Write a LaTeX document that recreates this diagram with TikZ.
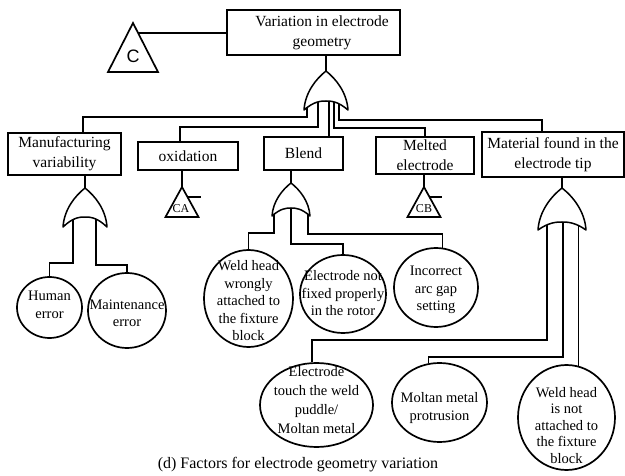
\documentclass[tikz,border=0pt]{standalone}
\usepackage{fontspec}
\setmainfont{Liberation Serif}
\newfontfamily\labelsans{Liberation Sans}
\usetikzlibrary{shapes.geometric}
\pgfdeclarelayer{background}
\pgfsetlayers{background,main}

\tikzset{
  box/.style={draw, line width=1.7pt, fill=white, inner sep=0pt, align=center,
    font=\fontsize{15.5}{20}\selectfont},
  boxtext/.style={inner sep=0pt, align=center, font=\fontsize{15.5}{20}\selectfont},
  event/.style={draw, ellipse, line width=1.7pt, fill=white, inner sep=0pt},
  eventtext/.style={inner sep=0pt, align=center, font=\fontsize{14.5}{17.5}\selectfont},
  wire/.style={line width=1.3pt},
  gate/.style={draw, line width=1.5pt, fill=white, line join=round},
  transfer/.style={draw, line width=1.7pt, line join=miter},
  transfertext/.style={inner sep=0pt, font=\fontsize{12}{12}\selectfont},
  figcaption/.style={inner sep=0pt, font=\fontsize{16}{19}\selectfont},
}

% OR gate pointing up: name, apex x, apex y, half width, height, rise of the back curve
\newcommand{\orgate}[6]{%
  \begin{scope}[shift={(#2,#3)}]
    \path[gate] ({-#4},#5)
      .. controls ({-0.95*#4},{0.55*#5}) and ({-0.45*#4},{0.2*#5}) .. (0,0)
      .. controls ({0.45*#4},{0.2*#5}) and ({0.95*#4},{0.55*#5}) .. (#4,#5)
      .. controls ({0.55*#4},{#5-0.95*#6}) and ({0.25*#4},{#5-#6}) .. (0,{#5-#6})
      .. controls ({-0.25*#4},{#5-#6}) and ({-0.55*#4},{#5-0.95*#6}) .. ({-#4},#5) -- cycle;
    \coordinate (#1) at (0,0);
    \coordinate (#1-in) at (0,{#5-#6});
  \end{scope}}

\begin{document}
\begin{tikzpicture}[x=1pt,y=-1pt]
\useasboundingbox (0,0) rectangle (625,476);

% top event
\node[box, minimum width=173pt, minimum height=45pt] (top) at (313.5,32.5) {};
\node[boxtext] (top-t) at (322,32.5) {Variation in electrode\\geometry};

% transfer symbol C
\draw[transfer] (133,23) coordinate (c-apex) -- (158,72) -- (108,72) -- cycle;
\node[inner sep=0pt, font=\labelsans\fontsize{18}{18}\selectfont] (c-t) at (133,56) {C};
\coordinate (c-side) at (138,33);

% intermediate events
\node[box, minimum width=113pt, minimum height=42pt] (mfg) at (64.5,154) {Manufacturing\\variability};
\node[box, minimum width=100pt, minimum height=28pt] (ox) at (188,156) {oxidation};
\node[box, minimum width=79pt, minimum height=33pt] (blend) at (303.5,153.5) {Blend};
\node[box, minimum width=98pt, minimum height=37pt] (mel) at (425,155.5) {Melted\\electrode};
\node[box, minimum width=142pt, minimum height=45pt] (mat) at (553,154.5) {Material found in the\\electrode tip};

% gates
\orgate{g0}{326}{71}{22}{39}{9}
\orgate{gm}{85}{188}{22}{39}{10}
\orgate{gb}{291}{183}{19}{33}{8}
\orgate{gt}{562}{188}{24}{42}{8}

% transfer symbols CA and CB
\draw[transfer] (182,187) coordinate (ca-apex) -- (198.5,217) -- (165.5,217) -- cycle;
\node[transfertext] (ca-t) at (181,209) {CA};
\draw[wire] (187.5,197) coordinate (ca-tick) -- ++(13.5,0);
\draw[transfer] (424,187) coordinate (cb-apex) -- (440.5,217) -- (407.5,217) -- cycle;
\node[transfertext] (cb-t) at (424,209) {CB};
\draw[wire] (429.5,197) coordinate (cb-tick) -- ++(12,0);

% basic events
\node[event, minimum width=65pt, minimum height=61pt] (human) at (49.5,307.5) {};
\node[eventtext] (human-t) at (49.5,305) {Human\\error};
\node[event, minimum width=78pt, minimum height=75pt] (maint) at (127,310.5) {};
\node[eventtext] (maint-t) at (127,313.5) {Maintenance\\error};
\node[event, minimum width=89pt, minimum height=97pt] (weld1) at (248.5,298.5) {};
\node[eventtext] (weld1-t) at (248.5,301) {Weld head\\wrongly\\attached to\\the fixture\\block};
\node[event, minimum width=86pt, minimum height=78pt] (notfix) at (343,294) {};
\node[eventtext] (notfix-t) at (343,293.5) {Electrode not\\fixed properly\\in the rotor};
\node[event, minimum width=84pt, minimum height=79pt] (arc) at (436,287.5) {};
\node[eventtext] (arc-t) at (436,290) {Incorrect\\arc gap\\setting};
\node[event, minimum width=113pt, minimum height=84pt] (touch) at (316.5,405) {};
\node[eventtext, font=\fontsize{14.5}{19}\selectfont] (touch-t) at (316.5,400.5) {Electrode\\touch the weld\\puddle/\\Moltan metal};
\node[event, minimum width=95pt, minimum height=79pt] (molt) at (439.5,402.5) {};
\node[eventtext] (molt-t) at (439.5,408) {Moltan metal\\protrusion};
\node[event, minimum width=97pt, minimum height=105pt] (wnot) at (566.5,417.5) {};
\node[eventtext, font=\fontsize{14.5}{16.5}\selectfont] (wnot-t) at (566.5,425.5) {Weld head\\is not\\attached to\\the fixture\\block};

% caption
\node[figcaption] (cap) at (298,465) {(d) Factors for electrode geometry variation};

% connectors, kept behind gates and events
\begin{pgfonlayer}{background}
\draw[wire] (c-side) -- (top.west |- c-side);
\draw[wire] (top.south -| g0) -- (g0);
\draw[wire] ([xshift=-19pt]g0-in) |- (83,117) -- (83,117 |- mfg.north);
\draw[wire] ([xshift=-8pt]g0-in) |- (180,127) -- (180,127 |- ox.north);
\draw[wire] ([xshift=3pt]g0-in) coordinate (w3) -- (w3 |- blend.north);
\draw[wire] ([xshift=8pt]g0-in) |- (mel.north |- 0,128) -- (mel.north);
\draw[wire] ([xshift=13pt]g0-in) |- (542,120) -- (542,120 |- mat.north);

\draw[wire] (mfg.south -| gm) -- (gm);
\draw[wire] ([xshift=-12pt]gm-in) |- (human.north |- 0,263) -- (human.north);
\draw[wire] ([xshift=11pt]gm-in) |- (maint.north |- 0,265) -- (maint.north);

\draw[wire] (ox.south -| ca-apex) -- (ca-apex);
\draw[wire] (mel.south -| cb-apex) -- (cb-apex);

\draw[wire] (blend.south -| gb) -- (gb);
\draw[wire] ([xshift=-17pt]gb-in) |- (weld1.north |- 0,233) -- (weld1.north);
\draw[wire] (gb-in) |- (notfix.north |- 0,244) -- (notfix.north);
\draw[wire] ([xshift=17pt]gb-in) |- (arc.81 |- 0,234) -- (arc.81);

\draw[wire] (mat.south -| gt) -- (gt);
\draw[wire] ([xshift=-15pt]gt-in) |- (touch.96 |- 0,340) -- (touch.96);
\draw[wire] ([xshift=1pt]gt-in) |- (molt.106 |- 0,357) -- (molt.106);
\draw[wire] (wnot.77 |- gt-in) -- (wnot.77);
\end{pgfonlayer}
\end{tikzpicture}
\end{document}
